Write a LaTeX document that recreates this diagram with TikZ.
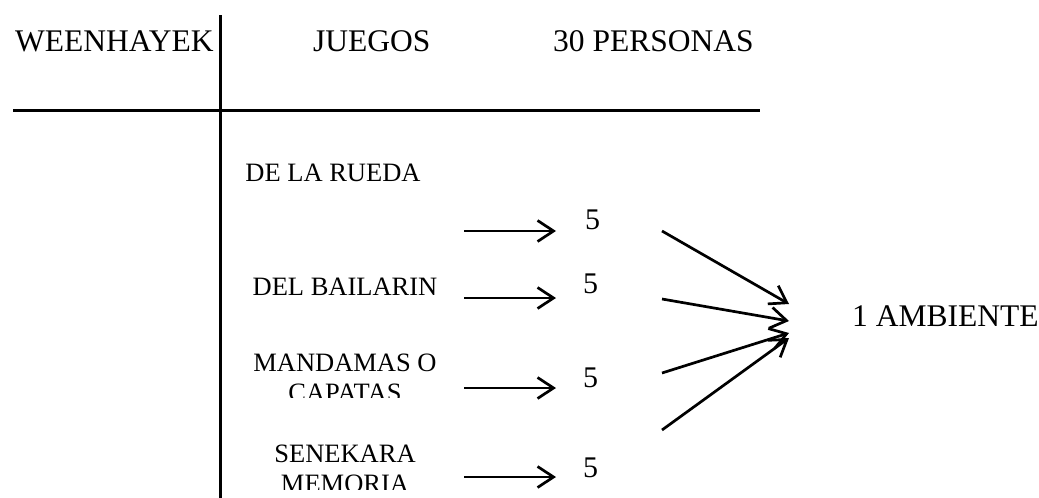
\documentclass[tikz,border=0pt]{standalone}
\usepackage{fontspec}
\setmainfont{Liberation Serif}
\usetikzlibrary{arrows.meta, positioning}

\begin{document}
\begin{tikzpicture}[
    x=1pt, y=-1pt,
    headtxt/.style={inner sep=0pt, font=\fontsize{31.5}{36}\selectfont, anchor=base west},
    gametxt/.style={inner sep=0pt, font=\fontsize{26.5}{29.5}\selectfont, align=center, anchor=base},
    numtxt/.style={inner sep=0pt, font=\fontsize{30}{34}\selectfont, anchor=base west},
    rule/.style={line width=3pt},
    arrow/.style={-{Straight Barb[length=16pt, width=21pt]}, line width=2.7pt}
]
    \useasboundingbox (0,0) rectangle (1039,498);

    % table rules
    \coordinate (vtop) at (220,15);
    \coordinate (vbot) at (220,498);
    \coordinate (hleft) at (13,110);
    \coordinate (hright) at (760,110);
    \draw[rule] (vtop) -- (vbot);
    \draw[rule] (hleft) -- (hright);

    % headers
    \node[headtxt] (ween) at (15,51) {WEENHAYEK};
    \node[headtxt] (juegos) at (313,51) {JUEGOS};
    \node[headtxt] (personas) at (553,51) {30 PERSONAS};

    % games (two-line nodes sit on their last line)
    \node[gametxt] (rueda) at (333,181) {DE LA RUEDA};
    \node[gametxt] (bailarin) at (345,295) {DEL BAILARIN};
    \begin{scope}
        \clip (222,330) rectangle (480,397);
        \node[gametxt] (mandamas) at (345,401) {MANDAMAS O\\CAPATAS};
    \end{scope}
    \begin{scope}
        \clip (222,420) rectangle (480,489);
        \node[gametxt] (senekara) at (345,492) {SENEKARA\\MEMORIA};
    \end{scope}

    % groups of 5 into one room
    \foreach \i/\ya/\xn/\yn/\yd/\ye in {1/231/585/229/231/304, 2/298/583/293/299/321, 3/388/583/387/373/333, 4/477/583/477/430/338} {
        \coordinate (in\i) at (464,\ya);
        \coordinate (to\i) at (556,\ya);
        \node[numtxt] (num\i) at (\xn,\yn) {5};
        \coordinate (out\i) at (662,\yd);
        \coordinate (amb\i) at (789,\ye);
        \draw[arrow] (in\i) -- (to\i);
        \draw[arrow] (out\i) -- (amb\i);
    }
    \node[headtxt] (ambiente) at (852,326) {1 AMBIENTE};
\end{tikzpicture}
\end{document}
